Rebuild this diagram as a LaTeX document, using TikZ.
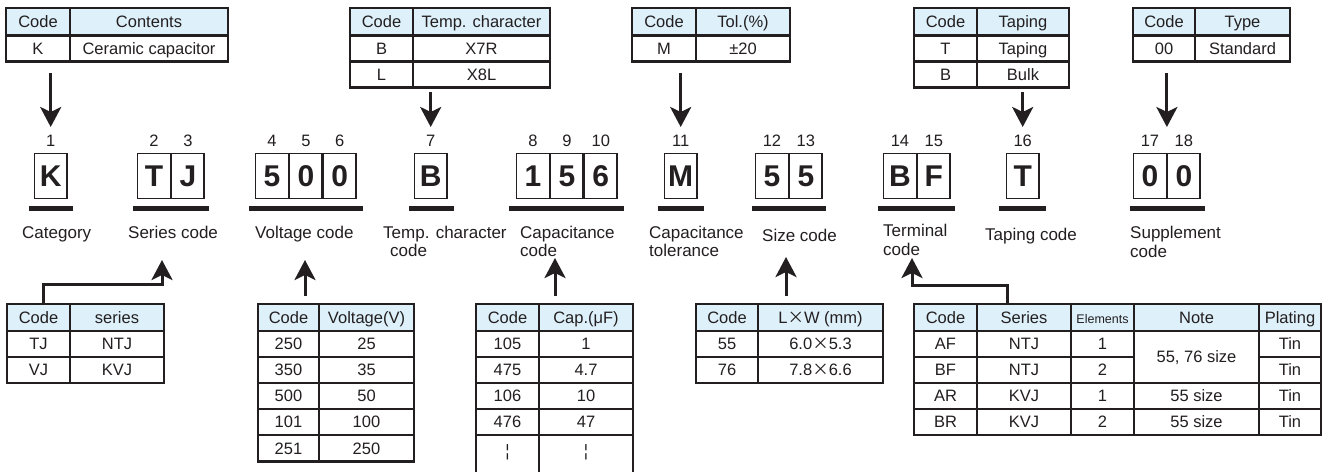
\documentclass[tikz,border=0pt]{standalone}
\usepackage{fontspec}
\setmainfont{Liberation Sans}
\newfontfamily\cjkf{Noto Sans CJK JP}
\usetikzlibrary{arrows.meta,fit,calc}
\definecolor{ink}{RGB}{35,31,32}
\definecolor{hdr}{RGB}{222,241,250}
\newcommand\Tcell[7]{%
  \coordinate (#1-nw) at (#3,#4);
  \coordinate (#1-se) at (#5,#6);
  \node[#2, fit=(#1-nw)(#1-se)] (#1) {};
  \node[ttext] (#1-t) at (#1.center) {#7};}
\tikzset{
  tcl/.style={draw=ink, line width=2.3pt, inner sep=0pt, outer sep=0pt},
  thd/.style={tcl, fill=hdr},
  tline/.style={draw=ink, line width=2.3pt},
  ttext/.style={text=ink, font=\fontsize{16.5}{18}\selectfont, inner sep=0pt, text height=11.8pt, text depth=0pt},
  dcell/.style={draw=ink, line width=1.4pt, inner sep=0pt, minimum width=32.5pt, minimum height=45pt,
    font=\fontsize{30}{32}\selectfont\bfseries, text=ink, text height=21.5pt, text depth=0pt},
  num/.style={text=ink, font=\fontsize{16.5}{18}\selectfont, inner sep=0pt, anchor=base},
  lab/.style={text=ink, font=\fontsize{17}{19}\selectfont, inner sep=0pt, anchor=base west},
  uline/.style={draw=ink, line width=4.5pt},
  arr/.style={draw=ink, line width=3pt, -{Stealth[length=20pt,width=21pt,inset=5pt]}}
}
\begin{document}
\begin{tikzpicture}[x=1pt,y=-1pt]
\fill[white] (0,0) rectangle (1330,472);
\useasboundingbox (0,0) rectangle (1330,472);

% ---------- digit boxes ----------
\node[dcell, anchor=north west] (c1) at (33.75,153) {K};
\node[dcell, anchor=north west] (c2) at (137,153) {T};
\node[dcell, anchor=west] (c3) at (c2.east) {J};
\node[dcell, anchor=north west] (c4) at (255,153) {5};
\node[dcell, anchor=west] (c5) at (c4.east) {0};
\node[dcell, anchor=west] (c6) at (c5.east) {0};
\node[dcell, anchor=north west] (c7) at (413.75,153) {B};
\node[dcell, anchor=north west] (c8) at (516,153) {1};
\node[dcell, anchor=west] (c9) at (c8.east) {5};
\node[dcell, anchor=west] (c10) at (c9.east) {6};
\node[dcell, anchor=north west] (c11) at (663.75,153) {M};
\node[dcell, anchor=north west] (c12) at (755,153) {5};
\node[dcell, anchor=west] (c13) at (c12.east) {5};
\node[dcell, anchor=north west] (c14) at (883,153) {B};
\node[dcell, anchor=west] (c15) at (c14.east) {F};
\node[dcell, anchor=north west] (c16) at (1005.75,153) {T};
\node[dcell, anchor=north west] (c17) at (1133,153) {0};
\node[dcell, anchor=west] (c18) at (c17.east) {0};

% ---------- position numbers ----------
\coordinate (nb) at (0,146.5);
\foreach \i in {1,...,18} {
  \node[num] (n\i) at (c\i |- nb) {\i};
}

% ---------- underlines ----------
\draw[uline] ($(c1.south west)+(-5,9)$) -- ($(c1.south east)+(5,9)$);
\draw[uline] ($(c2.south west)+(-4,9)$) -- ($(c3.south east)+(4,9)$);
\draw[uline] ($(c4.south west)+(-6,9)$) -- ($(c6.south east)+(6,9)$);
\draw[uline] ($(c7.south west)+(-5,9)$) -- ($(c7.south east)+(6,9)$);
\draw[uline] ($(c8.south west)+(-7,9)$) -- ($(c10.south east)+(6,9)$);
\draw[uline] ($(c11.south west)+(-6,9)$) -- ($(c11.south east)+(6,9)$);
\draw[uline] ($(c12.south west)+(-3,9)$) -- ($(c13.south east)+(3,9)$);
\draw[uline] ($(c14.south west)+(-5,9)$) -- ($(c15.south east)+(4,9)$);
\draw[uline] ($(c16.south west)+(-7,9)$) -- ($(c16.south east)+(6,9)$);
\draw[uline] ($(c17.south west)+(-3,9)$) -- ($(c18.south east)+(4,9)$);

% ---------- labels ----------
\node[lab] (l1) at (22,238) {Category};
\node[lab] (l2) at (128,238) {Series code};
\node[lab] (l3) at (255,238) {Voltage code};
\node[lab] (l4a) at (383,238) {Temp. character};
\node[lab] (l4b) at (390,256) {code};
\node[lab] (l5a) at (520,238) {Capacitance};
\node[lab] (l5b) at (520,256.5) {code};
\node[lab] (l6a) at (649,238) {Capacitance};
\node[lab] (l6b) at (649,256.5) {tolerance};
\node[lab] (l7) at (762,241.5) {Size code};
\node[lab] (l8a) at (883,236) {Terminal};
\node[lab] (l8b) at (883,255) {code};
\node[lab] (l9) at (985,240) {Taping code};
\node[lab] (l10a) at (1130,238) {Supplement};
\node[lab] (l10b) at (1130,257) {code};

% ---------- top tables ----------
\Tcell{ka}{thd}{6}{8}{70}{35.5}{Code}
\Tcell{kb}{thd}{70}{8}{228}{35.5}{Contents}
\Tcell{kc}{tcl}{6}{35.5}{70}{61.5}{K}
\Tcell{kd}{tcl}{70}{35.5}{228}{61.5}{Ceramic capacitor}
\Tcell{ta}{thd}{350}{8}{413}{35.5}{Code}
\Tcell{tb}{thd}{413}{8}{550}{35.5}{Temp. character}
\Tcell{tc}{tcl}{350}{35.5}{413}{61.5}{B}
\Tcell{td}{tcl}{413}{35.5}{550}{61.5}{X7R}
\Tcell{te}{tcl}{350}{61.5}{413}{87.5}{L}
\Tcell{tf}{tcl}{413}{61.5}{550}{87.5}{X8L}
\Tcell{oa}{thd}{632}{8}{696}{35.5}{Code}
\Tcell{ob}{thd}{696}{8}{790}{35.5}{Tol.(\%)}
\Tcell{oc}{tcl}{632}{35.5}{696}{61.5}{M}
\Tcell{od}{tcl}{696}{35.5}{790}{61.5}{±20}
\Tcell{pa}{thd}{914}{8}{977}{35.5}{Code}
\Tcell{pb}{thd}{977}{8}{1069}{35.5}{Taping}
\Tcell{pc}{tcl}{914}{35.5}{977}{61.5}{T}
\Tcell{pd}{tcl}{977}{35.5}{1069}{61.5}{Taping}
\Tcell{pe}{tcl}{914}{61.5}{977}{87.5}{B}
\Tcell{pf}{tcl}{977}{61.5}{1069}{87.5}{Bulk}
\Tcell{ya}{thd}{1133}{8}{1195}{35.5}{Code}
\Tcell{yb}{thd}{1195}{8}{1290}{35.5}{Type}
\Tcell{yc}{tcl}{1133}{35.5}{1195}{61.5}{00}
\Tcell{yd}{tcl}{1195}{35.5}{1290}{61.5}{Standard}

% ---------- bottom tables ----------
\Tcell{sa}{thd}{7}{304}{70}{331}{Code}
\Tcell{sb}{thd}{70}{304}{164}{331}{series}
\Tcell{sc}{tcl}{7}{331}{70}{357}{TJ}
\Tcell{sd}{tcl}{70}{331}{164}{357}{NTJ}
\Tcell{se}{tcl}{7}{357}{70}{383}{VJ}
\Tcell{sf}{tcl}{70}{357}{164}{383}{KVJ}
\Tcell{va}{thd}{258}{304}{319}{331}{Code}
\Tcell{vb}{thd}{319}{304}{414}{331}{Voltage(V)}
\Tcell{vc}{tcl}{258}{331}{319}{357}{250}
\Tcell{vd}{tcl}{319}{331}{414}{357}{25}
\Tcell{ve}{tcl}{258}{357}{319}{383}{350}
\Tcell{vf}{tcl}{319}{357}{414}{383}{35}
\Tcell{vg}{tcl}{258}{383}{319}{409}{500}
\Tcell{vh}{tcl}{319}{383}{414}{409}{50}
\Tcell{vi}{tcl}{258}{409}{319}{435}{101}
\Tcell{vj}{tcl}{319}{409}{414}{435}{100}
\Tcell{vk}{tcl}{258}{435}{319}{461.5}{251}
\Tcell{vl}{tcl}{319}{435}{414}{461.5}{250}
\Tcell{qa}{thd}{476}{304}{539}{331}{Code}
\Tcell{qb}{thd}{539}{304}{633}{331}{Cap.(μF)}
\Tcell{qc}{tcl}{476}{331}{539}{357}{105}
\Tcell{qd}{tcl}{539}{331}{633}{357}{1}
\Tcell{qe}{tcl}{476}{357}{539}{383}{475}
\Tcell{qf}{tcl}{539}{357}{633}{383}{4.7}
\Tcell{qg}{tcl}{476}{383}{539}{409}{106}
\Tcell{qh}{tcl}{539}{383}{633}{409}{10}
\Tcell{qi}{tcl}{476}{409}{539}{435}{476}
\Tcell{qj}{tcl}{539}{409}{633}{435}{47}
\coordinate (qL) at (476,472);
\coordinate (qM) at (539,472);
\coordinate (qR) at (633,472);
\draw[tline] (qi.south west) -- (qL);
\draw[tline] (qi.south east) -- (qM);
\draw[tline] (qj.south east) -- (qR);
\node[ttext] (qk) at (507.5,451) {¦};
\node[ttext] (ql) at (586,451) {¦};
\Tcell{za}{thd}{696}{304}{758}{331}{Code}
\Tcell{zb}{thd}{758}{304}{883}{331}{L{\cjkf ×}W (mm)}
\Tcell{zc}{tcl}{696}{331}{758}{357}{55}
\Tcell{zd}{tcl}{758}{331}{883}{357}{6.0{\cjkf ×}5.3}
\Tcell{ze}{tcl}{696}{357}{758}{383}{76}
\Tcell{zf}{tcl}{758}{357}{883}{383}{7.8{\cjkf ×}6.6}
\Tcell{ra1}{thd}{914}{304}{977}{331}{Code}
\Tcell{ra2}{thd}{977}{304}{1071}{331}{Series}
\Tcell{ra3}{thd}{1071}{304}{1134}{331}{\fontsize{12.5}{14}\selectfont Elements}
\Tcell{ra4}{thd}{1134}{304}{1259}{331}{Note}
\Tcell{ra5}{thd}{1259}{304}{1321}{331}{Plating}
\Tcell{rb1}{tcl}{914}{331}{977}{357}{AF}
\Tcell{rb2}{tcl}{977}{331}{1071}{357}{NTJ}
\Tcell{rb3}{tcl}{1071}{331}{1134}{357}{1}
\Tcell{rb4}{tcl}{1134}{331}{1259}{383}{55, 76 size}
\Tcell{rb5}{tcl}{1259}{331}{1321}{357}{Tin}
\Tcell{rc1}{tcl}{914}{357}{977}{383}{BF}
\Tcell{rc2}{tcl}{977}{357}{1071}{383}{NTJ}
\Tcell{rc3}{tcl}{1071}{357}{1134}{383}{2}
\Tcell{rc5}{tcl}{1259}{357}{1321}{383}{Tin}
\Tcell{rd1}{tcl}{914}{383}{977}{409}{AR}
\Tcell{rd2}{tcl}{977}{383}{1071}{409}{KVJ}
\Tcell{rd3}{tcl}{1071}{383}{1134}{409}{1}
\Tcell{rd4}{tcl}{1134}{383}{1259}{409}{55 size}
\Tcell{rd5}{tcl}{1259}{383}{1321}{409}{Tin}
\Tcell{re1}{tcl}{914}{409}{977}{435}{BR}
\Tcell{re2}{tcl}{977}{409}{1071}{435}{KVJ}
\Tcell{re3}{tcl}{1071}{409}{1134}{435}{2}
\Tcell{re4}{tcl}{1134}{409}{1259}{435}{55 size}
\Tcell{re5}{tcl}{1259}{409}{1321}{435}{Tin}

% ---------- down arrows ----------
\coordinate (d2) at (0,73);
\coordinate (d3) at (0,92);
\coordinate (dt) at (0,127);
\draw[arr] (c1 |- d2) -- (c1 |- dt);
\draw[arr] (c7 |- d3) -- (c7 |- dt);
\draw[arr] (c11 |- d2) -- (c11 |- dt);
\draw[arr] (c16 |- d3) -- (c16 |- dt);
\draw[arr] (c17.east |- d2) -- (c17.east |- dt);

% ---------- up arrows ----------
\coordinate (sA) at (43,304);
\coordinate (sB) at (162,284);
\coordinate (sC) at (162,260);
\draw[arr] (sA) |- (sB) -- (sC);
\coordinate (vA) at (305,296);
\coordinate (vB) at (305,260);
\draw[arr] (vA) -- (vB);
\coordinate (qA) at (555,296);
\coordinate (qB) at (555,258);
\draw[arr] (qA) -- (qB);
\coordinate (zA) at (786,296);
\coordinate (zB) at (786,257);
\draw[arr] (zA) -- (zB);
\coordinate (rA) at (1007,304);
\coordinate (rB) at (912,285);
\coordinate (rC) at (912,258);
\draw[arr] (rA) |- (rB) -- (rC);
\end{tikzpicture}
\end{document}
